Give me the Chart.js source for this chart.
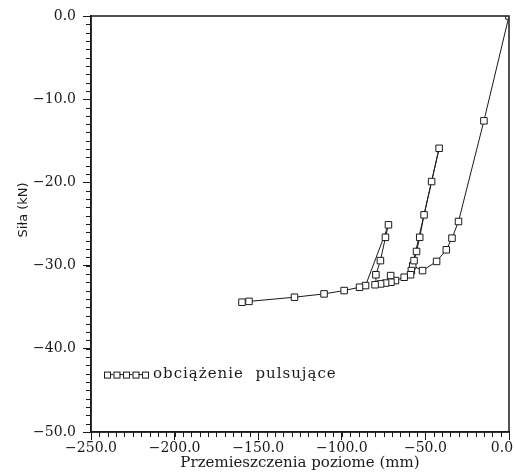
<!DOCTYPE html>
<html>
<head>
<meta charset="utf-8">
<script src="https://cdn.jsdelivr.net/npm/chart.js@4/dist/chart.umd.min.js"></script>
<style>
  body { margin: 0; background: #fff; }
  #wrap { width: 515px; height: 473px; }
</style>
</head>
<body>
<div id="wrap"><canvas id="chart" width="515" height="473"></canvas></div>
<script>
// displacement (mm) and force (kN), in the order the test path runs
var displacement = [0, -15.0, -30.2, -34.1, -37.5, -43.3, -51.7,
    -57.6, -56.8, -55.3, -53.4, -50.8, -46.3, -41.8,
    -58.4, -58.9, -62.7, -67.9, -70.8, -70.6, -73.8, -76.8, -80.1,
    -79.6, -76.9, -73.9, -72.1,
    -85.8, -89.4, -98.6, -110.6, -128.3, -155.5, -159.7];
var force = [0, -12.6, -24.7, -26.7, -28.1, -29.5, -30.6,
    -30.0, -29.4, -28.3, -26.6, -23.9, -19.9, -15.9,
    -30.6, -31.1, -31.4, -31.8, -31.2, -32.0, -32.1, -32.2, -32.3,
    -31.1, -29.4, -26.6, -25.1,
    -32.4, -32.6, -33.0, -33.4, -33.8, -34.3, -34.4];
var seriesLabel = 'obciążenie  pulsujące';
var xTitle = 'Przemieszczenia poziome (mm)';
var yTitle = 'Siła (kN)';
var xRange = [-250, 0], xStep = 50, xMinor = 5;
var yRange = [-50, 0], yStep = 10, yMinor = 1;

var ink = '#1a1a1a';
var serif = "'DejaVu Serif', 'Liberation Serif', serif";

function fmt(v) {
    return (v < 0 ? '\u2212' : '') + Math.abs(v).toFixed(1);
}

var points = displacement.map(function(x, i) { return { x: x, y: force[i] }; });

// minor ticks, the box round the plot, y title and the legend inside the plot
var extras = {
    id: 'extras',
    afterDraw: function(chart) {
        var ctx = chart.ctx;
        var a = chart.chartArea;
        var sx = chart.scales.x, sy = chart.scales.y;
        var i, p;
        ctx.save();
        ctx.strokeStyle = ink;
        ctx.lineWidth = 1;
        ctx.beginPath();
        for (i = 0; i <= (xRange[1] - xRange[0]) / xMinor; i++) {
            p = Math.round(sx.getPixelForValue(xRange[0] + i * xMinor)) + 0.5;
            ctx.moveTo(p, a.bottom);
            ctx.lineTo(p, a.bottom + 5);
        }
        for (i = 0; i <= (yRange[1] - yRange[0]) / yMinor; i++) {
            p = Math.round(sy.getPixelForValue(yRange[0] + i * yMinor)) + 0.5;
            ctx.moveTo(a.left, p);
            ctx.lineTo(a.left - 5, p);
        }
        ctx.stroke();
        ctx.lineWidth = 1.5;
        ctx.strokeRect(a.left, a.top, a.right - a.left, a.bottom - a.top);

        // y title (sits a bit above the middle in the original)
        ctx.save();
        ctx.translate(24, a.top + (a.bottom - a.top) * 0.466);
        ctx.rotate(-Math.PI / 2);
        ctx.fillStyle = ink;
        ctx.font = "13px 'DejaVu Sans', sans-serif";
        ctx.textAlign = 'center';
        ctx.textBaseline = 'middle';
        ctx.fillText(yTitle, 0, 0);
        ctx.restore();

        // legend
        var ly = a.top + (a.bottom - a.top) * 0.862;
        var lx = a.left + 16;
        ctx.lineWidth = 1;
        ctx.beginPath();
        ctx.moveTo(lx, ly);
        ctx.lineTo(lx + 38, ly);
        ctx.stroke();
        for (i = 0; i < 5; i++) {
            ctx.fillStyle = '#fff';
            ctx.fillRect(lx + i * 9.5 - 3, ly - 3, 6, 6);
            ctx.strokeRect(lx + i * 9.5 - 3 + 0.5, ly - 3 + 0.5, 6, 6);
        }
        ctx.fillStyle = ink;
        ctx.font = '15px ' + serif;
        ctx.letterSpacing = '1px';
        ctx.textBaseline = 'middle';
        ctx.textAlign = 'left';
        ctx.fillText(seriesLabel, lx + 46, ly);
        ctx.restore();
    }
};

var chart = new Chart(document.getElementById('chart'), {
    type: 'scatter',
    data: {
        datasets: [{
            label: seriesLabel,
            data: points,
            showLine: true,
            borderColor: ink,
            borderWidth: 1,
            pointStyle: 'rect',
            pointRadius: 4.6,
            pointBorderWidth: 1,
            pointBorderColor: ink,
            pointBackgroundColor: '#fff'
        }]
    },
    options: {
        responsive: false,
        devicePixelRatio: 1,
        animation: false,
        layout: { padding: { top: 16, right: 6, left: 0, bottom: 0 } },
        plugins: { legend: { display: false }, tooltip: { enabled: false } },
        scales: {
            x: {
                type: 'linear',
                min: xRange[0],
                max: xRange[1],
                afterFit: function(s) {
                    s.height = 41;
                    s.paddingLeft = 0;
                    s.paddingRight = 0;
                },
                ticks: {
                    stepSize: xStep,
                    color: ink,
                    padding: 0,
                    maxRotation: 0,
                    font: { family: serif, size: 14 },
                    // the last label is pulled left so it stays on the page
                    callback: function(v) {
                        return v === xRange[1] ? fmt(v) + '\u2002\u2002' : fmt(v);
                    }
                },
                grid: { drawOnChartArea: false, tickLength: 8, tickColor: ink },
                border: { color: ink, width: 1.5 },
                title: {
                    display: true,
                    text: xTitle,
                    color: ink,
                    font: { family: serif, size: 15 },
                    padding: { top: 0, bottom: 1 }
                }
            },
            y: {
                type: 'linear',
                min: yRange[0],
                max: yRange[1],
                afterFit: function(s) {
                    s.width = 91;
                    s.paddingTop = 0;
                    s.paddingBottom = 0;
                },
                ticks: {
                    stepSize: yStep,
                    color: ink,
                    padding: 7,
                    font: { family: serif, size: 14 },
                    callback: fmt
                },
                grid: { drawOnChartArea: false, tickLength: 8, tickColor: ink },
                border: { color: ink, width: 1.5 }
            }
        }
    },
    plugins: [extras]
});
</script>
</body>
</html>
